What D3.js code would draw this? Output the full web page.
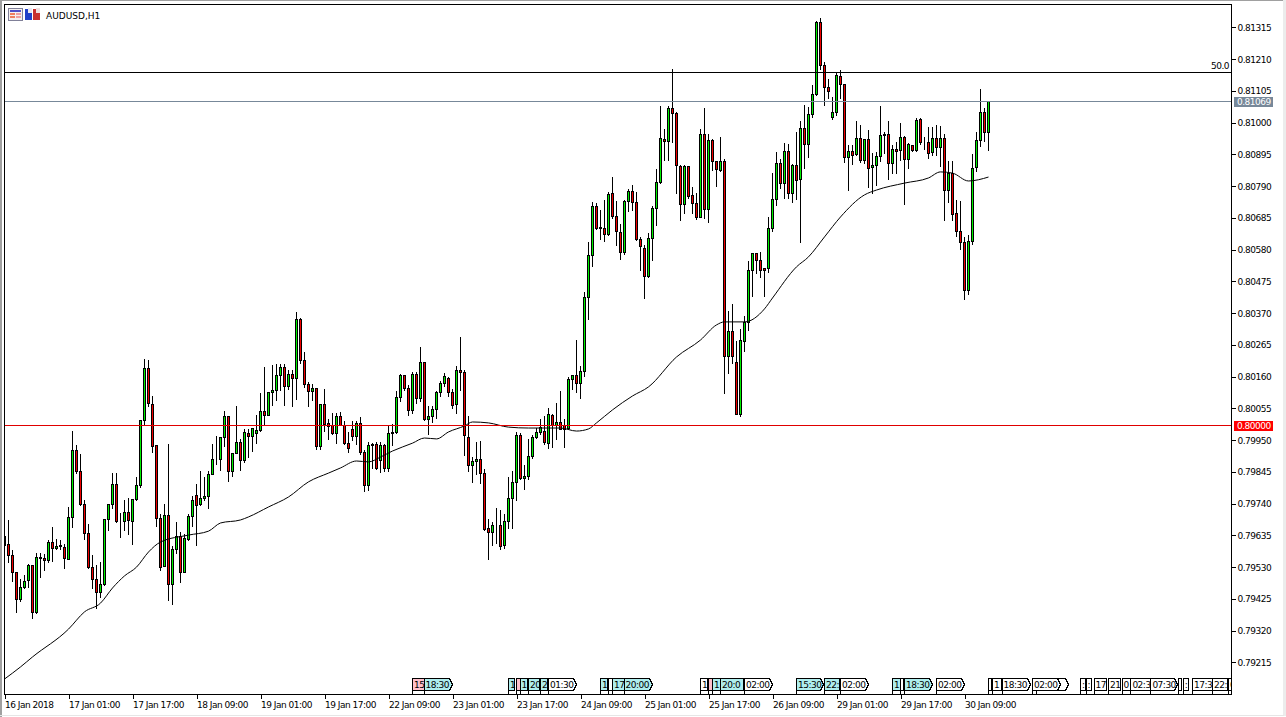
<!DOCTYPE html>
<html>
<head>
<meta charset="utf-8">
<title>AUDUSD,H1</title>
<script src="https://cdn.jsdelivr.net/npm/d3@7"></script>
<style>
  html, body { margin: 0; padding: 0; background: #fff; overflow: hidden; }
  text { font-family: "DejaVu Sans", sans-serif; font-size: 9px; letter-spacing: -0.5px; fill: #000; }
  .tick line { stroke: #000; shape-rendering: crispEdges; }
</style>
</head>
<body>
<div id="plot"></div>
<script>
// quotes are in points, 80000 = 0.80000
const POINT = 0.00001;

const highs = [
  79686,79689,79589,79513,79493,79506,79542,79536,79580,79578,
  79576,79620,79663,79625,79620,79608,79732,79983,79936,79906,
  79754,79673,79573,79540,79548,79688,79741,79843,79843,79711,
  79755,79761,79757,79831,80019,80220,80217,80096,79934,79708,
  79741,79939,79603,79682,79647,79642,79708,79768,79807,79848,
  79831,79848,79939,79965,79959,80049,80029,79906,80063,79956,
  79987,79989,79992,80035,80108,80195,80108,80200,80204,80204,
  80204,80185,80185,80377,80356,80244,80145,80137,80124,80071,
  80121,80022,80042,80042,80044,80014,79978,80014,80014,80027,
  79920,79945,79942,79945,79945,79939,79997,80005,80113,80170,
  80168,80135,80178,80178,80261,80207,80066,80066,80115,80148,
  80173,80162,80121,80196,80292,80185,80033,79897,79945,79948,
  79856,79691,79680,79728,79721,79708,79831,79851,79980,79974,
  79868,79956,79967,79992,80022,80033,80058,80038,80074,80115,
  80020,80162,80167,80283,80196,80443,80608,80738,80735,80714,
  80746,80771,80823,80741,80667,80747,80782,80797,80773,80622,
  80597,80637,80727,80848,81055,80979,81055,81179,81036,80860,
  80863,80856,80790,80769,80979,81050,80964,80948,80872,80955,
  80881,80380,80402,80281,80319,80363,80545,80571,80571,80575,
  80521,80691,80834,80906,80881,80934,80931,80865,80970,81008,
  81061,81052,81127,81339,81348,81203,81146,81085,81168,81174,
  81127,80928,80928,81008,80994,80948,80977,80901,80904,81055,
  80970,81006,80926,80937,81002,80959,80933,80928,81017,81017,
  80955,80988,80988,80994,80992,80964,80876,80876,80746,80741,
  80622,80631,80898,80970,81113,81050,81070
];

const lows = [
  79577,79545,79482,79379,79416,79460,79462,79360,79377,79497,
  79520,79546,79548,79589,79587,79525,79555,79662,79840,79733,
  79620,79526,79460,79394,79430,79469,79650,79724,79678,79627,
  79650,79639,79604,79752,79794,79997,80061,79908,79664,79520,
  79531,79419,79405,79576,79479,79513,79617,79664,79601,79735,
  79752,79724,79837,79868,79851,79928,79813,79829,79906,79851,
  79875,79893,79911,79939,79980,80000,80031,80066,80082,80115,
  80066,80119,80060,80086,80204,80124,80062,80082,79919,79919,
  79980,79953,79969,79939,79999,79936,79910,79950,79936,79904,
  79779,79782,79856,79854,79842,79845,79845,79931,79972,80077,
  80115,80033,80038,80071,80077,80014,79970,80007,80022,80093,
  80126,80093,80055,80038,80113,79900,79845,79809,79837,79805,
  79652,79554,79603,79609,79587,79591,79657,79658,79752,79820,
  79788,79821,79890,79956,79970,79934,79921,79926,79952,79985,
  79926,79985,80118,80107,80087,80162,80349,80523,80647,80615,
  80606,80626,80683,80595,80548,80565,80705,80711,80611,80512,
  80417,80488,80545,80659,80799,80876,80876,80934,80764,80676,
  80700,80750,80700,80681,80685,80683,80670,80841,80788,80837,
  80104,80170,80204,80035,80027,80242,80314,80424,80501,80487,
  80424,80503,80639,80727,80782,80749,80749,80735,80746,80603,
  80848,80884,81017,81091,81174,81058,81080,81010,81025,81080,
  80867,80777,80862,80890,80867,80865,80784,80766,80793,80870,
  80898,80812,80832,80832,80874,80730,80848,80904,80906,80928,
  80911,80881,80891,80890,80854,80675,80735,80675,80622,80581,
  80415,80430,80597,80837,80922,80937,80907
];

const opens = [
  79603,79606,79570,79513,79422,79462,79486,79536,79379,79562,
  79559,79552,79612,79592,79599,79595,79556,79695,79916,79847,
  79738,79642,79529,79490,79447,79473,79688,79738,79804,79681,
  79681,79711,79681,79754,79800,80015,80187,80068,79933,79691,
  79531,79701,79473,79589,79631,79513,79622,79698,79767,79736,
  79757,79764,79837,79885,79886,79959,80029,79846,79906,79943,
  79884,79972,79961,79971,79982,80045,80032,80108,80114,80164,
  80190,80126,80167,80154,80349,80213,80134,80110,80121,79928,
  80068,80005,79997,79971,80028,79999,79938,79985,79961,80005,
  79908,79799,79932,79936,79884,79932,79855,79971,79974,80091,
  80164,80121,80047,80167,80087,80207,80017,80028,80051,80108,
  80137,80154,80108,80067,80180,80174,79959,79865,79879,79886,
  79840,79658,79644,79667,79668,79602,79681,79757,79810,79966,
  79823,79829,79896,79959,79975,79980,79939,80032,79998,80008,
  79998,79988,80151,80164,80137,80177,80422,80561,80723,80652,
  80650,80629,80766,80689,80638,80570,80739,80772,80736,80614,
  80584,80490,80617,80716,80802,80945,80937,81047,81031,80854,
  80730,80854,80759,80733,80687,80961,80713,80942,80872,80843,
  80873,80226,80309,80207,80035,80276,80339,80511,80567,80544,
  80518,80518,80650,80746,80865,80798,80906,80765,80859,80812,
  80981,80928,81027,81093,81331,81189,81115,81016,81034,81153,
  81126,80885,80905,80895,80948,80875,80944,80851,80858,80888,
  80961,80961,80864,80911,80907,80951,80878,80924,80908,81010,
  80939,80934,80900,80948,80917,80948,80776,80832,80700,80639,
  80604,80445,80607,80852,80941,81034,80967
];

const closes = [
  79630,79568,79513,79422,79463,79483,79536,79379,79562,79559,
  79552,79612,79592,79599,79602,79559,79695,79916,79847,79737,
  79642,79529,79490,79447,79473,79688,79738,79804,79680,79681,
  79711,79685,79754,79800,80015,80187,80072,79929,79691,79529,
  79701,79473,79589,79631,79513,79625,79698,79751,79735,79757,
  79764,79836,79886,79887,79959,80029,79846,79906,79943,79884,
  79976,79961,79989,79982,80045,80032,80108,80114,80164,80190,
  80127,80167,80154,80349,80213,80134,80110,80121,79928,80068,
  80002,79994,79971,80028,79999,79938,79921,79961,80005,79908,
  79799,79932,79936,79856,79932,79855,79972,79975,80091,80164,
  80121,80047,80167,80087,80207,80017,80028,80051,80108,80137,
  80161,80108,80064,80180,80174,79965,79865,79879,79886,79840,
  79656,79644,79668,79668,79598,79681,79757,79810,79966,79824,
  79830,79896,79959,79976,79991,79941,80035,80000,80008,79985,
  79986,80152,80164,80137,80177,80422,80561,80723,80651,80650,
  80630,80762,80689,80640,80571,80739,80771,80736,80614,80589,
  80490,80617,80716,80802,80948,80937,81047,81031,80858,80730,
  80854,80755,80732,80686,80961,80713,80942,80871,80845,80870,
  80226,80309,80226,80035,80280,80339,80511,80567,80543,80511,
  80511,80650,80746,80865,80798,80906,80765,80859,80808,80981,
  80928,81027,81093,81331,81189,81115,81102,81034,81156,81126,
  80885,80905,80891,80948,80875,80944,80848,80858,80888,80958,
  80958,80864,80911,80905,80951,80878,80928,80908,81007,80934,
  80937,80897,80948,80917,80948,80776,80832,80697,80639,80604,
  80445,80607,80848,80941,81034,80967,81070
];

// moving average, read at these bars
const maBars = [0,4,7,16,20,24,27,30,33,36,39,46,51,54,59,61,66,71,76,81,84,88,91,94,97,102,105,108,111,115,117,121,126,131,136,139,143,146,148,152,157,161,168,174,178,180,185,190,192,198,201,205,209,215,218,225,231,234,237,241,246];
const maValues = [79160,79200,79233,79325,79382,79411,79461,79501,79530,79580,79613,79636,79649,79676,79686,79696,79729,79762,79812,79841,79858,79881,79878,79894,79914,79940,79957,79954,79977,79997,80010,80007,79993,79990,79990,79990,79980,79987,80007,80050,80096,80126,80225,80281,80331,80341,80341,80384,80420,80523,80556,80622,80688,80761,80777,80800,80817,80837,80833,80807,80820];

const priceTicks = [81315,81210,81105,81000,80895,80790,80685,80580,80475,80370,80265,80160,80055,79950,79845,79740,79635,79530,79425,79320,79215];

const timeBars = [0,16,32,48,64,80,96,112,128,144,160,176,192,208,224,240];
const timeLabels = ["16 Jan 2018","17 Jan 01:00","17 Jan 17:00","18 Jan 09:00","19 Jan 01:00","19 Jan 17:00","22 Jan 09:00","23 Jan 01:00","23 Jan 17:00","24 Jan 09:00","25 Jan 01:00","25 Jan 17:00","26 Jan 09:00","29 Jan 01:00","29 Jan 17:00","30 Jan 09:00"];

const levelFifty = 81167;
const levelBid = 81069;
const levelRound = 80000;

// calendar flags along the bottom, text as far as it shows in each flag
const flagLabels = ["15","18:30","1","","1","20","2","01:30","1","","17","20:00","1","","1","20:0","02:00","15:30","22:","02:00","1","","18:30","02:00","","1","18:30","","02:00",":",":","17","21","0","02:3","07:30","",":","17:3","22:","0"];
const flagFrom = [102,104.9,126,128,128.9,131,134,136,149,151,152,154.9,174,176,177,179,185,198,205,209,222,224,225,233,246,247,249.4,258,257,269,270.4,272.4,276,279.4,281.6,286.6,293.5,294.7,297,302,306];
const flagTo = [104.9,112,127.6,128.9,130.8,133.75,135.8,143,150.8,152,154.9,162,175.8,177,178.9,184.7,192,204.7,208.7,216,223.9,224.7,232,240,246.7,249.2,256.4,266,264,270.3,271.7,275.6,279.1,281.4,286.4,293.2,294.3,296,301.9,305.7,310];
const flagKinds = ["pink","cyan","cyan","pink","cyan","cyan","cyan","white","cyan","white","cyan","cyan","white","pink","cyan","cyan","white","cyan","cyan","white","cyan","white","cyan","white","white","white","white","white","white","white","white","white","white","white","white","white","white","white","white","white","white"];
const flagFill = {pink: "#ffc0cb", cyan: "#afeeee", white: "#ffffff"};

const w = 1286;
const h = 717;
const margin = {top: 4.5, right: 54.5, bottom: 22.5, left: 4.5};

const svg = d3.select("div#plot")
    .append("svg")
    .attr("width", w)
    .attr("height", h)
    .style("display", "block");

// window edges
svg.append("rect").attr("x", 0).attr("y", 0).attr("width", 2).attr("height", h).attr("fill", "#a0a0a0");
svg.append("rect").attr("x", 0).attr("y", 0).attr("width", w).attr("height", 1).attr("fill", "#a0a0a0");
svg.append("rect").attr("x", 1283).attr("y", 0).attr("width", 3).attr("height", 716).attr("fill", "#ececec");
svg.append("rect").attr("x", 0).attr("y", 715).attr("width", 1284).attr("height", 1).attr("fill", "#e6e6e6");

const xScale = d3.scaleLinear()
    .domain([0, 246])
    .range([4.5, 988.5]);

const yScale = d3.scaleLinear()
    .domain([0.791088, 0.813906])
    .range([h - margin.bottom, margin.top]);

const snap = v => Math.floor(v) + 0.5;
const yPx = p => snap(yScale(p * POINT));

svg.append("clipPath").attr("id", "chartClip")
  .append("rect")
    .attr("x", margin.left)
    .attr("y", margin.top)
    .attr("width", w - margin.left - margin.right)
    .attr("height", h - margin.top - margin.bottom);

const chart = svg.append("g").attr("clip-path", "url(#chartClip)");

// candles
const bars = chart.append("g")
    .attr("shape-rendering", "crispEdges")
  .selectAll("g")
    .data(d3.range(highs.length))
    .enter().append("g");

bars.append("line")
    .attr("x1", i => xScale(i))
    .attr("x2", i => xScale(i))
    .attr("y1", i => yPx(highs[i]))
    .attr("y2", i => yPx(lows[i]))
    .attr("stroke", "#000");

bars.append("rect")
    .attr("x", i => xScale(i) - 1)
    .attr("y", i => yPx(Math.max(opens[i], closes[i])))
    .attr("width", 2)
    .attr("height", i => yPx(Math.min(opens[i], closes[i])) - yPx(Math.max(opens[i], closes[i])))
    .attr("fill", i => closes[i] >= opens[i] ? "#00f000" : "#f00000")
    .attr("stroke", "#000");

// moving average
const maLine = d3.line()
    .x((d, i) => xScale(maBars[i]))
    .y(d => yScale(d * POINT))
    .curve(d3.curveMonotoneX);

chart.append("path")
    .attr("d", maLine(maValues))
    .attr("fill", "none")
    .attr("stroke", "#000")
    .attr("stroke-width", 1);

// horizontal levels
const levels = chart.append("g").attr("shape-rendering", "crispEdges");
[[levelFifty, "#000"], [levelBid, "#778899"], [levelRound, "#e00000"]].forEach(l => {
  levels.append("line")
      .attr("x1", margin.left)
      .attr("x2", w - margin.right)
      .attr("y1", yPx(l[0]))
      .attr("y2", yPx(l[0]))
      .attr("stroke", l[1]);
});

svg.append("text")
    .attr("x", 1229)
    .attr("y", yPx(levelFifty) - 3.5)
    .attr("text-anchor", "end")
    .text("50.0");

// flags
const flags = chart.append("g")
  .selectAll("g")
    .data(d3.range(flagLabels.length))
    .enter().append("g");

const flagTop = 678.5;
const flagBottom = 690.5;

flags.append("path")
    .attr("d", i => {
      const a = snap(xScale(flagFrom[i]));
      const b = snap(xScale(flagTo[i]));
      // the long flags end in a point
      if (flagTo[i] - flagFrom[i] >= 6) {
        return `M${a},${flagTop}L${b - 3},${flagTop}L${b},${(flagTop + flagBottom) / 2}L${b - 3},${flagBottom}L${a},${flagBottom}Z`;
      }
      return `M${a},${flagTop}L${b},${flagTop}L${b},${flagBottom}L${a},${flagBottom}Z`;
    })
    .attr("fill", i => flagFill[flagKinds[i]])
    .attr("stroke", "#000")
    .attr("shape-rendering", "crispEdges");

flags.append("line")
    .attr("x1", i => snap(xScale(flagFrom[i])))
    .attr("x2", i => snap(xScale(flagFrom[i])))
    .attr("y1", flagBottom)
    .attr("y2", h - margin.bottom)
    .attr("stroke", "#000")
    .attr("shape-rendering", "crispEdges");

flags.append("text")
    .attr("x", i => xScale(flagFrom[i]) + 1.5)
    .attr("y", 688)
    .text(i => flagLabels[i]);

// axes
const yAxis = d3.axisRight(yScale)
    .tickValues(priceTicks.map(d => d * POINT))
    .tickSize(4)
    .tickPadding(2)
    .tickFormat(d3.format(".5f"));

svg.append("g")
    .attr("transform", `translate(${w - margin.right}, 0)`)
    .call(yAxis)
    .call(g => g.select(".domain").remove())
    .selectAll("text")
    .style("font-family", null)
    .attr("font-family", null)
    .attr("font-size", null);

const xAxis = d3.axisBottom(xScale)
    .tickValues(timeBars)
    .tickSize(4)
    .tickPadding(3)
    .tickFormat((d, i) => timeLabels[i]);

svg.append("g")
    .attr("transform", `translate(0, ${h - margin.bottom})`)
    .call(xAxis)
    .call(g => g.select(".domain").remove())
    .selectAll("text")
    .attr("text-anchor", "start");

// price tags
[[levelBid, "#778899"], [levelRound, "#ff0000"]].forEach(l => {
  svg.append("rect")
      .attr("x", 1234)
      .attr("y", yPx(l[0]) - 4.5)
      .attr("width", 39)
      .attr("height", 10)
      .attr("fill", l[1]);
  svg.append("text")
      .attr("x", 1237)
      .attr("y", yPx(l[0]) + 3.5)
      .style("fill", "#fff")
      .text((l[0] * POINT).toFixed(5));
});

// frame
svg.append("rect")
    .attr("x", margin.left)
    .attr("y", margin.top)
    .attr("width", w - margin.left - margin.right)
    .attr("height", h - margin.top - margin.bottom)
    .attr("fill", "none")
    .attr("stroke", "#000")
    .attr("shape-rendering", "crispEdges");

// title and its two icons
const icons = svg.append("g").attr("shape-rendering", "crispEdges");
icons.append("rect").attr("x", 8.5).attr("y", 8.5).attr("width", 14).attr("height", 12).attr("fill", "#f4f0f0").attr("stroke", "#808098");
icons.append("rect").attr("x", 10).attr("y", 10).attr("width", 11).attr("height", 2).attr("fill", "#5050c8");
icons.append("rect").attr("x", 10).attr("y", 13).attr("width", 5).attr("height", 2).attr("fill", "#f08060");
icons.append("rect").attr("x", 10).attr("y", 16).attr("width", 5).attr("height", 2).attr("fill", "#f08060");
icons.append("rect").attr("x", 16).attr("y", 13).attr("width", 5).attr("height", 2).attr("fill", "#f0a0a0");
icons.append("rect").attr("x", 16).attr("y", 16).attr("width", 5).attr("height", 2).attr("fill", "#f0a0a0");
icons.append("rect").attr("x", 25).attr("y", 9).attr("width", 7).attr("height", 11).attr("fill", "#2040c8");
icons.append("rect").attr("x", 33).attr("y", 9).attr("width", 7).attr("height", 11).attr("fill", "#c83030");
icons.append("rect").attr("x", 28).attr("y", 8).attr("width", 4).attr("height", 5).attr("fill", "#e8e8f0");
icons.append("rect").attr("x", 36).attr("y", 8).attr("width", 4).attr("height", 5).attr("fill", "#f0e0e0");

svg.append("text")
    .attr("x", 46)
    .attr("y", 18.5)
    .style("letter-spacing", "0")
    .text("AUDUSD,H1");
</script>
</body>
</html>
